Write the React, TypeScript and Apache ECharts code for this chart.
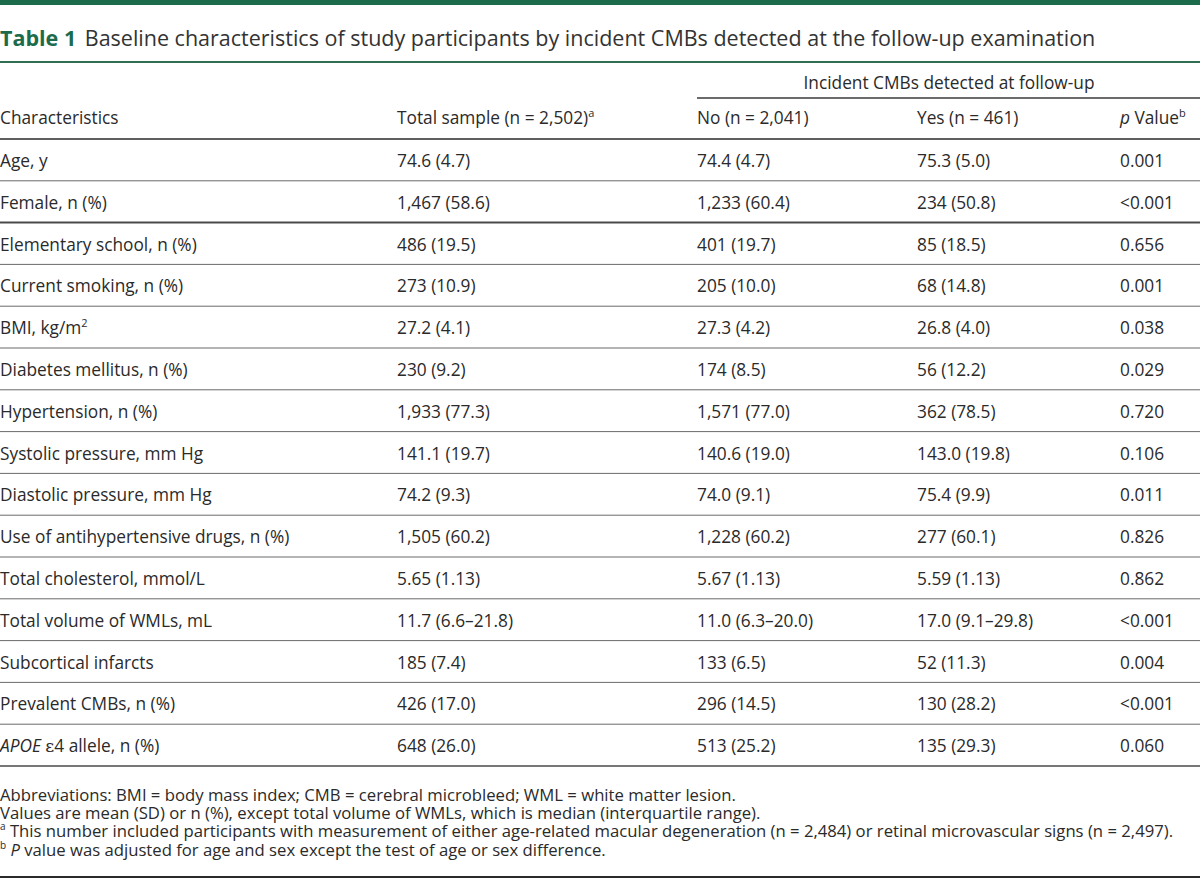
import React, { useEffect, useRef } from "react";
import * as echarts from "echarts";

const TITLE_LABEL = "Table 1";
const TITLE_TEXT =
  "Baseline characteristics of study participants by incident CMBs detected at the follow-up examination";
const GROUP_HEADER = "Incident CMBs detected at follow-up";
const COLUMN_HEADERS = [
  "Characteristics",
  "Total sample (n = 2,502){sup|a}",
  "No (n = 2,041)",
  "Yes (n = 461)",
  "{it|p} Value{sup|b}",
];
const characteristics = [
  "Age, y",
  "Female, n (%)",
  "Elementary school, n (%)",
  "Current smoking, n (%)",
  "BMI, kg/m{sup|2}",
  "Diabetes mellitus, n (%)",
  "Hypertension, n (%)",
  "Systolic pressure, mm Hg",
  "Diastolic pressure, mm Hg",
  "Use of antihypertensive drugs, n (%)",
  "Total cholesterol, mmol/L",
  "Total volume of WMLs, mL",
  "Subcortical infarcts",
  "Prevalent CMBs, n (%)",
  "{it|APOE} {eps|ε}4 allele, n (%)",
];
const totalSample = [
  "74.6 (4.7)", "1,467 (58.6)", "486 (19.5)", "273 (10.9)", "27.2 (4.1)",
  "230 (9.2)", "1,933 (77.3)", "141.1 (19.7)", "74.2 (9.3)", "1,505 (60.2)",
  "5.65 (1.13)", "11.7 (6.6–21.8)", "185 (7.4)", "426 (17.0)", "648 (26.0)",
];
const noCMB = [
  "74.4 (4.7)", "1,233 (60.4)", "401 (19.7)", "205 (10.0)", "27.3 (4.2)",
  "174 (8.5)", "1,571 (77.0)", "140.6 (19.0)", "74.0 (9.1)", "1,228 (60.2)",
  "5.67 (1.13)", "11.0 (6.3–20.0)", "133 (6.5)", "296 (14.5)", "513 (25.2)",
];
const yesCMB = [
  "75.3 (5.0)", "234 (50.8)", "85 (18.5)", "68 (14.8)", "26.8 (4.0)",
  "56 (12.2)", "362 (78.5)", "143.0 (19.8)", "75.4 (9.9)", "277 (60.1)",
  "5.59 (1.13)", "17.0 (9.1–29.8)", "52 (11.3)", "130 (28.2)", "135 (29.3)",
];
const pValues = [
  "0.001", "<0.001", "0.656", "0.001", "0.038", "0.029", "0.720", "0.106",
  "0.011", "0.826", "0.862", "<0.001", "0.004", "<0.001", "0.060",
];
const footnotes = [
  "Abbreviations: BMI = body mass index; CMB = cerebral microbleed; WML = white matter lesion.",
  "Values are mean (SD) or n (%), except total volume of WMLs, which is median (interquartile range).",
  "{sup|a} This number included participants with measurement of either age-related macular degeneration (n = 2,484) or retinal microvascular signs (n = 2,497).",
  "{sup|b} {it|P} value was adjusted for age and sex except the test of age or sex difference.",
];

const FONT = '"Open Sans", sans-serif';
const TEXT_COLOR = "#2a2a2a";
const GREEN = "#1c6b4b";
const COL_X = [0, 397, 697, 917, 1120];
const HEADER_LINE_Y = 139;
const ROW_H = 41.8;
const BODY_SIZE = 17.3;
const FOOT_SIZE = 16.7;
const FOOT_LINE_H = 18.4;
const TITLE_SIZE = 21.5;

function makeRich(size: number, lineHeight?: number) {
  const lh = lineHeight ? { lineHeight } : {};
  return {
    sup: {
      fontSize: Math.round(size * 0.62),
      fontFamily: FONT,
      fill: TEXT_COLOR,
      padding: [0, 0, Math.round(size * 0.55), 0],
    },
    it: { fontSize: size, fontStyle: "italic", fontFamily: FONT, fill: TEXT_COLOR, ...lh },
    eps: { fontSize: size, fontFamily: '"DejaVu Serif", serif', fill: TEXT_COLOR, ...lh },
    b: { fontSize: size, fontWeight: "bold", fontFamily: FONT, fill: GREEN, padding: [0, 3, 0, 0] },
  };
}

function txt(x: number, y: number, text: string, size = BODY_SIZE, align = "left", extra: any = {}) {
  return {
    type: "text",
    x,
    y,
    silent: true,
    style: {
      text,
      fill: TEXT_COLOR,
      fontFamily: FONT,
      fontSize: size,
      align,
      verticalAlign: "middle",
      textAlign: align,
      textVerticalAlign: "middle",
      rich: makeRich(size, extra.lineHeight),
      ...extra,
    },
  };
}

function hline(y: number, x1: number, x2: number, color: string, w: number) {
  return {
    type: "line",
    silent: true,
    shape: { x1, y1: y, x2, y2: y },
    style: { stroke: color, lineWidth: w },
  };
}

function buildElements() {
  const els: any[] = [];
  els.push({ type: "rect", silent: true, shape: { x: 0, y: 0, width: 1200, height: 5 }, style: { fill: GREEN } });
  els.push(txt(0, 37, `{b|${TITLE_LABEL}} ${TITLE_TEXT}`, TITLE_SIZE, "left", { fill: "#333333" }));
  els.push(hline(62, 0, 1200, "#2f6e52", 2));
  els.push(txt(949, 82, GROUP_HEADER, BODY_SIZE, "center"));
  els.push(hline(98, COL_X[2], 1200, "#3a3a3a", 1.5));
  COLUMN_HEADERS.forEach((h, i) => els.push(txt(COL_X[i], 117, h)));
  els.push(hline(HEADER_LINE_Y, 0, 1200, "#2a2a2a", 1.5));
  const cols = [characteristics, totalSample, noCMB, yesCMB, pValues];
  characteristics.forEach((_, r) => {
    const top = HEADER_LINE_Y + r * ROW_H;
    const cy = top + ROW_H / 2 + 0.5;
    cols.forEach((col, c) => els.push(txt(COL_X[c], cy, col[r])));
    const bottom = top + ROW_H;
    const last = r === characteristics.length - 1;
    if (r === 1) els.push(hline(bottom, 0, 1200, "#4a4a4a", 2));
    else if (last) els.push(hline(bottom, 0, 1200, "#4a4a4a", 1.5));
    else els.push(hline(bottom, 0, 1200, "#6a6a6a", 1));
  });
  // footnotes as one multi-line block
  const footTop = 794 - FOOT_LINE_H / 2;
  els.push(
    txt(0, footTop, footnotes.join("\n"), FOOT_SIZE, "left", {
      lineHeight: FOOT_LINE_H,
      verticalAlign: "top",
      textVerticalAlign: "top",
    })
  );
  els.push(hline(877, 0, 1200, "#2a2a2a", 2));
  return els;
}

export default function App() {
  const ref = useRef<HTMLDivElement>(null);
  useEffect(() => {
    document.body.style.margin = "0";
    if (!ref.current) return;
    const chart = echarts.init(ref.current, null, { renderer: "svg" });
    chart.setOption({
      animation: false,
      backgroundColor: "#ffffff",
      graphic: { elements: buildElements() },
    });
    return () => chart.dispose();
  }, []);
  return <div ref={ref} style={{ width: 1200, height: 879 }} />;
}
